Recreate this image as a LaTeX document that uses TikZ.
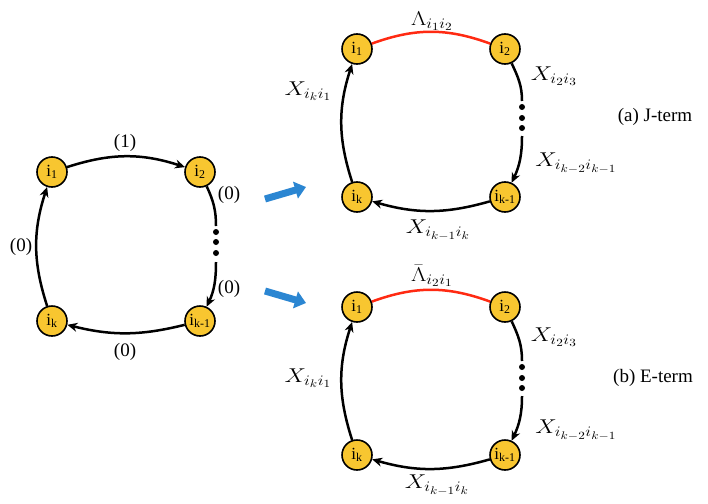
\RequirePackage{fix-cm}
\documentclass[tikz,border=0pt]{standalone}
\usepackage{fontspec}
\setmainfont{Liberation Serif}
\usetikzlibrary{arrows.meta}
\DeclareMathSizes{20}{20}{14.5}{11}
\definecolor{nodey}{HTML}{F8C630}
\definecolor{bluea}{HTML}{2B86D2}
\definecolor{redl}{HTML}{FF2A12}
\begin{document}
\begin{tikzpicture}[x=1pt,y=-1pt,
  vert/.style={circle,draw,line width=1.6pt,fill=nodey,minimum size=30pt,inner sep=0pt,font=\fontsize{17}{17}\selectfont},
  edg/.style={line width=2.5pt,-{Stealth[length=10pt,width=9pt]}},
  plainedge/.style={line width=2.5pt},
  redge/.style={line width=2.5pt,draw=redl},
  lbl/.style={font=\fontsize{19}{19}\selectfont},
  mlbl/.style={font=\fontsize{20}{20}\selectfont,xscale=1.2,transform shape},
  dotn/.style={circle,fill=black,inner sep=0pt,minimum size=6pt},
  bigarrow/.style={line width=7pt,draw=bluea,-{Triangle[length=11pt,width=17pt]}}]
\useasboundingbox (0,0) rectangle (708,503);

% ---------- left diagram ----------
\node[vert] (L1) at (52,172) {i\textsubscript{1}};
\node[vert] (L2) at (200,172) {i\textsubscript{2}};
\node[vert] (Lk) at (52,321) {i\textsubscript{k}};
\node[vert] (Lk1) at (200,321) {i\textsubscript{k-1}};
\coordinate (Lr1) at (216,226);
\coordinate (Lr2) at (216,262);
\node[dotn] (Ld1) at (216,232) {};
\node[dotn] (Ld2) at (216,242) {};
\node[dotn] (Ld3) at (216,253) {};
\draw[edg] (L1) to[bend left=18] (L2);
\draw[plainedge] (L2) to[out=-65,in=90] (Lr1);
\draw[edg] (Lr2) to[out=-90,in=65] (Lk1);
\draw[edg] (Lk1) to[bend left=14] (Lk);
\draw[edg] (Lk) to[bend left=18] (L1);
\node[lbl] (lt) at (125,143) {(1)};
\node[lbl] (lr1) at (229,195) {(0)};
\node[lbl] (lr2) at (229,289) {(0)};
\node[lbl] (ll) at (21,247) {(0)};
\node[lbl] (lb) at (125,352) {(0)};

% ---------- blue arrows ----------
\coordinate (ba1s) at (265,199);
\coordinate (ba1e) at (306,187);
\coordinate (ba2s) at (265,291);
\coordinate (ba2e) at (306,303);
\draw[bigarrow] (ba1s) -- (ba1e);
\draw[bigarrow] (ba2s) -- (ba2e);

% ---------- (a) J-term ----------
\node[vert] (A1) at (357,49) {i\textsubscript{1}};
\node[vert] (A2) at (505,49) {i\textsubscript{2}};
\node[vert] (Ak) at (357,197) {i\textsubscript{k}};
\node[vert] (Ak1) at (505,197) {i\textsubscript{k-1}};
\coordinate (Ar1) at (522,101);
\coordinate (Ar2) at (522,136);
\node[dotn] (Ad1) at (522,107) {};
\node[dotn] (Ad2) at (522,118) {};
\node[dotn] (Ad3) at (522,128) {};
\draw[redge] (A1) to[bend left=20] (A2);
\draw[plainedge] (A2) to[out=-65,in=90] (Ar1);
\draw[edg] (Ar2) to[out=-90,in=65] (Ak1);
\draw[edg] (Ak1) to[bend left=16] (Ak);
\draw[edg] (Ak) to[bend left=18] (A1);
\node[mlbl] (aL) at (432,21) {$\Lambda_{i_1i_2}$};
\node[mlbl] (aX23) at (554,76) {$X_{i_2i_3}$};
\node[mlbl] (aXk2) at (576,163) {$X_{i_{k-2}i_{k-1}}$};
\node[mlbl] (aXk1) at (308,91) {$X_{i_ki_1}$};
\node[mlbl] (aXb) at (438,230) {$X_{i_{k-1}i_k}$};
\node[lbl] (aT) at (655,117) {(a) J-term};

% ---------- (b) E-term ----------
\node[vert] (B1) at (357,307) {i\textsubscript{1}};
\node[vert] (B2) at (505,307) {i\textsubscript{2}};
\node[vert] (Bk) at (357,455) {i\textsubscript{k}};
\node[vert] (Bk1) at (505,455) {i\textsubscript{k-1}};
\coordinate (Br1) at (522,361);
\coordinate (Br2) at (522,396);
\node[dotn] (Bd1) at (522,367) {};
\node[dotn] (Bd2) at (522,378) {};
\node[dotn] (Bd3) at (522,388) {};
\draw[redge] (B1) to[bend left=20] (B2);
\draw[plainedge] (B2) to[out=-65,in=90] (Br1);
\draw[edg] (Br2) to[out=-90,in=65] (Bk1);
\draw[edg] (Bk1) to[bend left=16] (Bk);
\draw[edg] (Bk) to[bend left=18] (B1);
\node[mlbl] (bL) at (432,276) {$\bar{\Lambda}_{i_2i_1}$};
\node[mlbl] (bX23) at (554,337) {$X_{i_2i_3}$};
\node[mlbl] (bXk2) at (576,430) {$X_{i_{k-2}i_{k-1}}$};
\node[mlbl] (bXk1) at (308,378) {$X_{i_ki_1}$};
\node[mlbl] (bXb) at (437,485) {$X_{i_{k-1}i_k}$};
\node[lbl] (bT) at (653,378) {(b) E-term};
\end{tikzpicture}
\end{document}
